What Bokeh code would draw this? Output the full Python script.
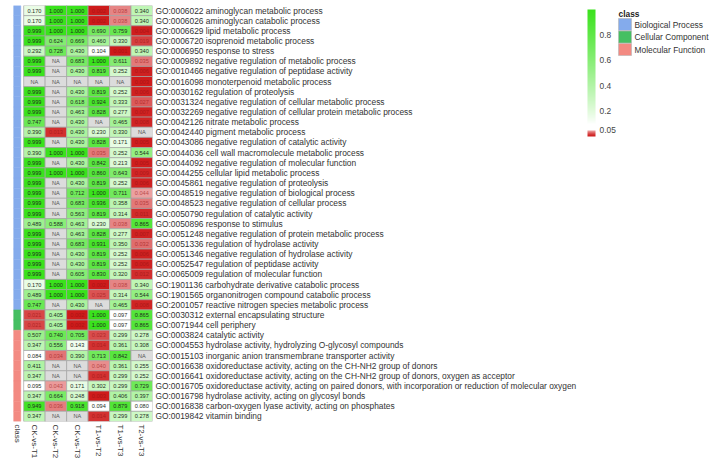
import math
from bokeh.plotting import figure
from bokeh.layouts import row
from bokeh.models import (ColumnDataSource, FactorRange, Range1d, FixedTicker,
                          ColorBar, LinearColorMapper)
from bokeh.core.properties import value
from bokeh.embed import file_html
from bokeh.resources import INLINE

terms = [
    "GO:0006022 aminoglycan metabolic process",
    "GO:0006026 aminoglycan catabolic process",
    "GO:0006629 lipid metabolic process",
    "GO:0006720 isoprenoid metabolic process",
    "GO:0006950 response to stress",
    "GO:0009892 negative regulation of metabolic process",
    "GO:0010466 negative regulation of peptidase activity",
    "GO:0016098 monoterpenoid metabolic process",
    "GO:0030162 regulation of proteolysis",
    "GO:0031324 negative regulation of cellular metabolic process",
    "GO:0032269 negative regulation of cellular protein metabolic process",
    "GO:0042126 nitrate metabolic process",
    "GO:0042440 pigment metabolic process",
    "GO:0043086 negative regulation of catalytic activity",
    "GO:0044036 cell wall macromolecule metabolic process",
    "GO:0044092 negative regulation of molecular function",
    "GO:0044255 cellular lipid metabolic process",
    "GO:0045861 negative regulation of proteolysis",
    "GO:0048519 negative regulation of biological process",
    "GO:0048523 negative regulation of cellular process",
    "GO:0050790 regulation of catalytic activity",
    "GO:0050896 response to stimulus",
    "GO:0051248 negative regulation of protein metabolic process",
    "GO:0051336 regulation of hydrolase activity",
    "GO:0051346 negative regulation of hydrolase activity",
    "GO:0052547 regulation of peptidase activity",
    "GO:0065009 regulation of molecular function",
    "GO:1901136 carbohydrate derivative catabolic process",
    "GO:1901565 organonitrogen compound catabolic process",
    "GO:2001057 reactive nitrogen species metabolic process",
    "GO:0030312 external encapsulating structure",
    "GO:0071944 cell periphery",
    "GO:0003824 catalytic activity",
    "GO:0004553 hydrolase activity, hydrolyzing O-glycosyl compounds",
    "GO:0015103 inorganic anion transmembrane transporter activity",
    "GO:0016638 oxidoreductase activity, acting on the CH-NH2 group of donors",
    "GO:0016641 oxidoreductase activity, acting on the CH-NH2 group of donors, oxygen as acceptor",
    "GO:0016705 oxidoreductase activity, acting on paired donors, with incorporation or reduction of molecular oxygen",
    "GO:0016798 hydrolase activity, acting on glycosyl bonds",
    "GO:0016838 carbon-oxygen lyase activity, acting on phosphates",
    "GO:0019842 vitamin binding",
]

term_class = (["Biological Process"] * 30 + ["Cellular Component"] * 2
              + ["Molecular Function"] * 9)

comparisons = ["CK-vs-T1", "CK-vs-T2", "CK-vs-T3", "T1-vs-T2", "T1-vs-T3", "T2-vs-T3"]

NA = None
ck_vs_t1 = [0.170, 0.170, 0.999, 0.999, 0.292, 0.999, 0.999, NA, 0.999, 0.999,
            0.999, 0.747, 0.390, 0.999, 0.390, 0.999, 0.999, 0.999, 0.999, 0.999,
            0.999, 0.489, 0.999, 0.999, 0.999, 0.999, 0.999, 0.170, 0.489, 0.747,
            0.021, 0.021, 0.507, 0.347, 0.084, 0.411, 0.347, 0.095, 0.347, 0.949,
            0.347]
ck_vs_t2 = [1.000, 1.000, 1.000, 0.624, 0.728, NA, NA, NA, NA, NA,
            NA, NA, 0.013, NA, 1.000, NA, 1.000, NA, NA, NA,
            NA, 0.588, NA, NA, NA, NA, NA, 1.000, 1.000, NA,
            0.405, 0.405, 0.740, 0.556, 0.034, NA, NA, 0.043, 0.664, 0.036,
            NA]
ck_vs_t3 = [1.000, 1.000, 1.000, 0.669, 0.430, 0.683, 0.430, NA, 0.430, 0.618,
            0.463, 0.430, 0.430, 0.430, 1.000, 0.430, 1.000, 0.430, 0.712, 0.683,
            0.563, 0.463, 0.463, 0.683, 0.430, 0.430, 0.605, 1.000, 1.000, 0.430,
            0.002, 0.002, 0.705, 0.143, 0.390, NA, NA, 0.171, 0.248, 0.918,
            NA]
t1_vs_t2 = [0.002, 0.002, 0.690, 0.460, 0.104, 1.000, 0.819, NA, 0.819, 0.924,
            0.828, NA, 0.230, 0.828, 0.035, 0.842, 0.860, 0.819, 1.000, 0.936,
            0.819, 0.230, 0.828, 0.931, 0.819, 0.819, 0.830, 0.002, 0.025, NA,
            1.000, 1.000, 0.023, 0.014, 0.713, 0.040, 0.014, 0.302, 0.003, 0.094,
            0.014]
t1_vs_t3 = [0.038, 0.038, 0.759, 0.330, 0.001, 0.611, 0.252, NA, 0.252, 0.333,
            0.277, 0.465, 0.330, 0.171, 0.252, 0.213, 0.643, 0.252, 0.711, 0.358,
            0.314, 0.038, 0.277, 0.350, 0.252, 0.252, 0.320, 0.038, 0.314, 0.465,
            0.097, 0.097, 0.299, 0.361, 0.842, 0.361, 0.299, 0.299, 0.406, 0.879,
            0.299]
t2_vs_t3 = [0.340, 0.340, 0.004, 0.019, 0.340, 0.035, 0.006, 0.003, 0.006, 0.027,
            0.007, 0.008, NA, 0.005, 0.544, 0.005, 0.009, 0.006, 0.044, 0.035,
            0.011, 0.865, 0.007, 0.032, 0.006, 0.006, 0.012, 0.340, 0.544, 0.008,
            0.865, 0.865, 0.278, 0.308, NA, 0.255, 0.252, 0.729, 0.397, 0.080,
            0.278]

columns = [ck_vs_t1, ck_vs_t2, ck_vs_t3, t1_vs_t2, t1_vs_t3, t2_vs_t3]

class_names = ["Biological Process", "Cellular Component", "Molecular Function"]
class_palette = ["#84abec", "#46bf62", "#f38a82"]
class_colors = dict(zip(class_names, class_palette))

colorbar_ticks = [0.05, 0.1, 0.2, 0.4, 0.6, 0.8]


def lerp(c1, c2, t):
    return "#%02x%02x%02x" % tuple(int(round(a + (b - a) * t)) for a, b in zip(c1, c2))


def cell_color(v):
    if v is None:
        return "#dcdcdc"
    if v < 0.05:
        t = (v / 0.05) ** 1.5
        return lerp((206, 26, 26), (242, 188, 188), t)
    t = max(0.0, min(1.0, (v - 0.1) / 0.9))
    return lerp((255, 255, 255), (58, 226, 28), t ** 0.85)


def text_color(v):
    if v is None:
        return "#555555"
    if v < 0.05:
        t = (v / 0.05) ** 1.5
        return lerp((170, 20, 20), (190, 90, 90), t)
    return "#1e2e1e"


# ---------------- heatmap figure ----------------
xs, ys, fills, labels, tcols = [], [], [], [], []
for ci, col in enumerate(columns):
    for ri, v in enumerate(col):
        xs.append(ci)
        ys.append(terms[ri])
        fills.append(cell_color(v))
        labels.append("NA" if v is None else "%.3f" % v)
        tcols.append(text_color(v))
cells = ColumnDataSource(dict(x=xs, y=ys, fill=fills, label=labels, tcol=tcols))

CLASS_X = -0.8

p = figure(frame_width=140, frame_height=416,
           x_range=Range1d(-1.02, 5.5),
           y_range=FactorRange(factors=terms[::-1]),
           y_axis_location="right",
           output_backend="svg", toolbar_location=None,
           min_border_left=12, min_border_right=434,
           min_border_top=5, min_border_bottom=46)
p.outline_line_color = None
p.xgrid.visible = False
p.ygrid.visible = False

p.rect(x="x", y="y", width=1, height=1, source=cells,
       fill_color="fill", line_color="#a3a3a3", line_width=0.7)
p.text(x="x", y="y", text="label", source=cells, text_color="tcol",
       text_align="center", text_baseline="middle",
       text_font=value("Liberation Sans"), text_font_size="5.6px")

strip = ColumnDataSource(dict(x=[CLASS_X] * len(terms), y=terms,
                              fill=[class_colors[c] for c in term_class]))
p.rect(x="x", y="y", width=0.33, height=1, source=strip,
       fill_color="fill", line_color="fill", line_width=0.5)

xa = p.xaxis[0]
xa.ticker = FixedTicker(ticks=[CLASS_X] + list(range(len(comparisons))))
overrides = {i: c for i, c in enumerate(comparisons)}
overrides[CLASS_X] = "class"
xa.major_label_overrides = overrides
xa.major_label_orientation = -math.pi / 2
xa.axis_line_color = None
xa.major_tick_line_color = None
xa.minor_tick_line_color = None
xa.major_tick_out = 0
xa.major_tick_in = 0
xa.minor_tick_out = 0
xa.major_label_standoff = 3
xa.major_label_text_font = "Liberation Sans"
xa.major_label_text_font_size = "8px"
xa.major_label_text_color = "#333333"

ya = p.yaxis[0]
ya.axis_line_color = None
ya.major_tick_line_color = None
ya.minor_tick_line_color = None
ya.major_tick_out = 0
ya.major_tick_in = 0
ya.minor_tick_out = 0
ya.major_label_standoff = 3
ya.major_label_text_font = "Liberation Sans"
ya.major_label_text_font_size = "8.4px"
ya.major_label_text_color = "#333333"

# ---------------- legend figure (screen-pixel data space) ----------------
q = figure(frame_width=134, frame_height=140, title=None,
           x_range=Range1d(0, 134), y_range=Range1d(140, 0),
           x_axis_location=None, y_axis_location=None,
           output_backend="svg", toolbar_location=None,
           min_border_left=0, min_border_right=0, min_border_top=0, min_border_bottom=0)
q.outline_line_color = None
q.xgrid.visible = False
q.ygrid.visible = False

palette = [cell_color(i / 255) for i in range(256)]
mapper = LinearColorMapper(palette=palette, low=0, high=1)
cb = ColorBar(color_mapper=mapper, ticker=FixedTicker(ticks=colorbar_ticks),
              major_label_overrides={t: ("%g" % t) for t in colorbar_ticks},
              width=8, height=127, padding=0, margin=0,
              location=(1, 9), label_standoff=4,
              major_tick_line_color=None, bar_line_color=None,
              border_line_color=None, background_fill_alpha=0,
              major_label_text_font="Liberation Sans",
              major_label_text_font_size="8.4px",
              major_label_text_color="#444444")
q.add_layout(cb)

# class legend: title, colour keys and names laid out in the legend panel
LEG_X, LEG_TOP, KEY_W, KEY_H, PITCH = 32, 13, 13, 12, 12.5
q.text(x=[LEG_X], y=[3], text=["class"], text_baseline="top", text_align="left",
       text_font=value("Liberation Sans"), text_font_style="bold",
       text_font_size="8.4px", text_color="#222222")
n = len(class_names)
key_src = ColumnDataSource(dict(
    x=[LEG_X + KEY_W / 2] * n,
    y=[LEG_TOP + KEY_H / 2 + i * PITCH for i in range(n)],
    tx=[LEG_X + KEY_W + 3] * n,
    fill=class_palette, name=class_names))
q.rect(x="x", y="y", width=KEY_W, height=KEY_H, source=key_src,
       fill_color="fill", line_color="#b5b5b5", line_width=0.6)
q.text(x="tx", y="y", text="name", source=key_src,
       text_baseline="middle", text_align="left",
       text_font=value("Liberation Sans"), text_font_size="8.4px",
       text_color="#333333")

open("out.html", "w").write(file_html(row(p, q), INLINE))
